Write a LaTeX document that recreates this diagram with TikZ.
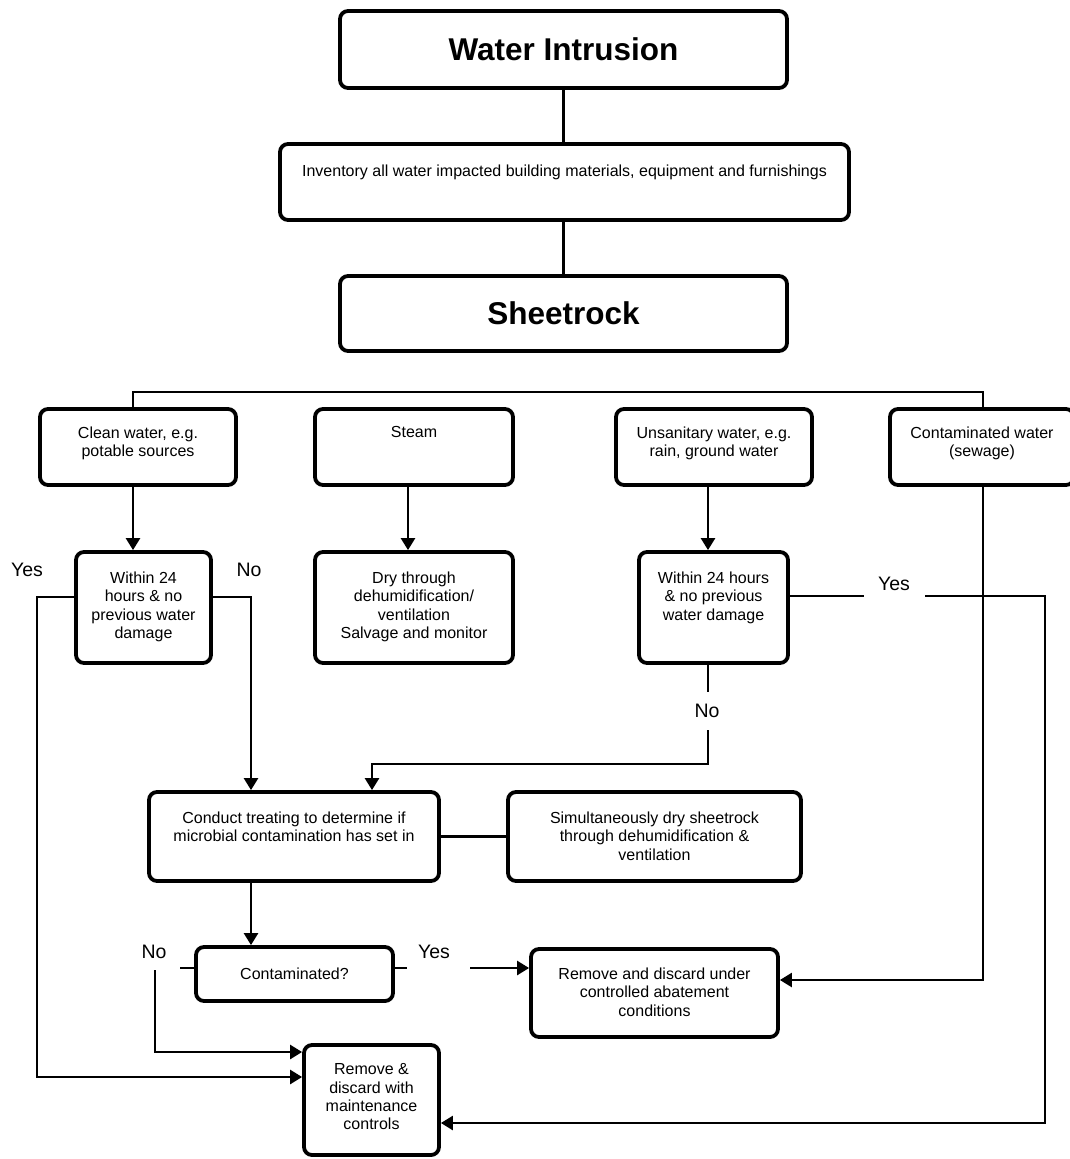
\documentclass[tikz,border=0pt]{standalone}
\usepackage{fontspec}
\setmainfont{Liberation Sans}
\usetikzlibrary{arrows.meta,positioning}
\begin{document}
\begin{tikzpicture}[x=1pt,y=-1pt,
  flowbox/.style={draw=black, line width=3.8pt, rounded corners=8pt, fill=white, inner sep=0pt, align=center},
  boxtext/.style={inner sep=0pt, align=center, font=\fontsize{16}{18.3}\selectfont},
  titletext/.style={font=\fontsize{31.5}{36}\selectfont\bfseries},
  connector/.style={line width=2.5pt, draw=black},
  arrowed/.style={-{Triangle[length=12pt,width=14pt]}},
  yesno/.style={inner sep=0pt, font=\fontsize{19.5}{22}\selectfont}]
\path[use as bounding box, fill=white] (0,0) rectangle (1070,1159);
\clip (0,0) rectangle (1070,1159);

% boxes
\node[flowbox, titletext, minimum width=447pt, minimum height=77pt] (wi) at (563.5,49.5) {Water Intrusion};
\node[flowbox, minimum width=569pt, minimum height=76pt] (inv) at (564.5,182) {};
\node[boxtext, below=22.5pt of inv.north] (invt) {Inventory all water impacted building materials, equipment and furnishings};
\node[flowbox, titletext, minimum width=447pt, minimum height=75pt] (sr) at (563.5,313.5) {Sheetrock};

\node[flowbox, minimum width=196pt, minimum height=76pt] (cw) at (138,447) {};
\node[boxtext, below=19.5pt of cw.north] (cwt) {Clean water, e.g.\\potable sources};
\node[flowbox, minimum width=198pt, minimum height=76pt] (st) at (414,447) {};
\node[boxtext, below=19.5pt of st.north] (stt) {Steam};
\node[flowbox, minimum width=196pt, minimum height=76pt] (us) at (714,447) {};
\node[boxtext, below=19.5pt of us.north] (ust) {Unsanitary water, e.g.\\rain, ground water};
\node[flowbox, minimum width=184pt, minimum height=76pt] (ct) at (982,447) {};
\node[boxtext, below=19.5pt of ct.north] (ctt) {Contaminated water\\(sewage)};

\node[flowbox, minimum width=135pt, minimum height=111pt] (w1) at (143.5,607.5) {};
\node[boxtext, below=21.5pt of w1.north] (w1t) {Within 24\\hours \& no\\previous water\\damage};
\node[flowbox, minimum width=198pt, minimum height=111pt] (dr) at (414,607.5) {};
\node[boxtext, below=21.5pt of dr.north] (drt) {Dry through\\dehumidification/\\ventilation\\Salvage and monitor};
\node[flowbox, minimum width=149pt, minimum height=111pt] (w2) at (713.5,607.5) {};
\node[boxtext, below=21.5pt of w2.north] (w2t) {Within 24 hours\\\& no previous\\water damage};

\node[flowbox, minimum width=290pt, minimum height=89pt] (cd) at (294,836.5) {};
\node[boxtext, below=21.5pt of cd.north] (cdt) {Conduct treating to determine if\\microbial contamination has set in};
\node[flowbox, minimum width=293pt, minimum height=89pt] (si) at (654.5,836.5) {};
\node[boxtext, below=21.5pt of si.north] (sit) {Simultaneously dry sheetrock\\through dehumidification \&\\ventilation};

\node[flowbox, boxtext, minimum width=197pt, minimum height=54pt] (cq) at (294.5,974) {Contaminated?};
\node[flowbox, minimum width=247pt, minimum height=88pt] (ra) at (654.5,993) {};
\node[boxtext, below=20.5pt of ra.north] (rat) {Remove and discard under\\controlled abatement\\conditions};
\node[flowbox, minimum width=135pt, minimum height=110pt] (rm) at (371.5,1100) {};
\node[boxtext, below=20.5pt of rm.north] (rmt) {Remove \&\\discard with\\maintenance\\controls};

% coordinates
\coordinate (barL) at (133,392);
\coordinate (barR) at (983,392);
\coordinate (stx) at (408,0);
\coordinate (usx) at (708,0);
\coordinate (yl) at (37,597);
\coordinate (ylb) at (37,1077);
\coordinate (nr) at (251,597);
\coordinate (nt) at (708,764);
\coordinate (nt2) at (372,764);
\coordinate (yr) at (1045,596);
\coordinate (yrb) at (1045,1123);
\coordinate (ctb) at (983,980);
\coordinate (sl) at (180,968);
\coordinate (sr2) at (407,968);
\coordinate (ys) at (470,968);
\coordinate (ns) at (155,970);
\coordinate (nsb) at (155,1052);

% connectors
\draw[connector] (wi.south) -- (wi.south |- inv.north);
\draw[connector] (wi.south |- inv.south) -- (wi.south |- sr.north);
\draw[connector] (barL |- cw.north) -- (barL) -- (barR) -- (barR |- ct.north);
\draw[connector, arrowed] (barL |- cw.south) -- (barL |- w1.north);
\draw[connector, arrowed] (stx |- st.south) -- (stx |- dr.north);
\draw[connector, arrowed] (usx |- us.south) -- (usx |- w2.north);
\draw[connector, arrowed] (w1.west |- yl) -- (yl) -- (ylb) -- (rm.west |- ylb);
\draw[connector, arrowed] (w1.east |- nr) -- (nr) -- (nr |- cd.north);
\draw[connector, arrowed] (usx |- w2.south) -- (nt) -- (nt2) -- (nt2 |- cd.north);
\draw[connector, arrowed] (w2.east |- yr) -- (yr) -- (yrb) -- (rm.east |- yrb);
\draw[connector, arrowed] (barR |- ct.south) -- (ctb) -- (ra.east |- ctb);
\draw[connector] (cd.east) -- (si.west);
\draw[connector, arrowed] (nr |- cd.south) -- (nr |- cq.north);
\draw[connector] (cq.west |- sl) -- (sl);
\draw[connector] (cq.east |- sl) -- (sr2);
\draw[connector, arrowed] (ys) -- (ra.west |- ys);
\draw[connector, arrowed] (ns) -- (nsb) -- (rm.west |- nsb);

% labels
\node[yesno] (yes1) at (27,570) {Yes};
\node[yesno] (no1) at (249,570) {No};
\node[yesno, fill=white, minimum width=61pt, minimum height=28pt] (yes2) at (894,584) {Yes};
\node[yesno, fill=white, minimum width=30pt, minimum height=38pt] (no2) at (707,711) {No};
\node[yesno] (no3) at (154,952) {No};
\node[yesno] (yes3) at (434,952) {Yes};
\end{tikzpicture}
\end{document}
